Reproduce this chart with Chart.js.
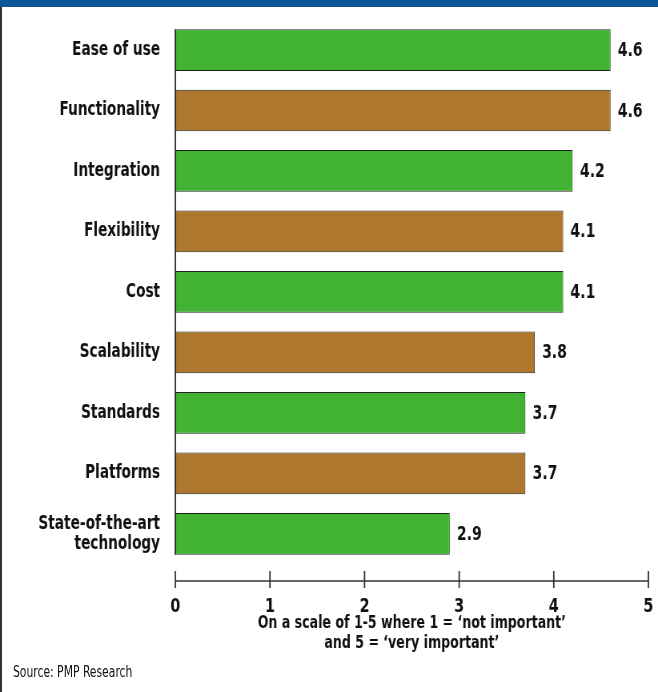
<!DOCTYPE html>
<html>
<head>
<meta charset="utf-8">
<script src="https://cdn.jsdelivr.net/npm/chart.js@4/dist/chart.umd.min.js"></script>
<style>
  body { margin: 0; background: #fff; }
  #wrap { position: relative; width: 658px; height: 692px; overflow: hidden; }
  #topbar { position: absolute; left: 0; top: 0; width: 658px; height: 7px; background: #0b5699; }
  #leftline { position: absolute; left: 0; top: 7px; width: 2px; height: 685px; background: #333; }
  #source { position: absolute; left: 13px; top: 663px; font: 15px "DejaVu Sans Condensed", sans-serif; color: #111;
            transform: scaleX(0.8); transform-origin: left top; white-space: nowrap; }
  /* the canvas is drawn wider and squeezed to fake a condensed typeface */
  canvas { position: absolute; left: 0; top: 0; }
</style>
</head>
<body>
<div id="wrap">
  <canvas id="chart" width="822" height="692" style="width:658px;height:692px"></canvas>
  <div id="topbar"></div>
  <div id="leftline"></div>
  <div id="source">Source: PMP Research</div>
</div>
<script>
  const categories = [
    "Ease of use", "Functionality", "Integration", "Flexibility", "Cost",
    "Scalability", "Standards", "Platforms", ["State-of-the-art", "technology"]
  ];
  const scores = [4.6, 4.6, 4.2, 4.1, 4.1, 3.8, 3.7, 3.7, 2.9];
  const barColors = ["#41b233", "#ad772d", "#41b233", "#ad772d", "#41b233",
                     "#ad772d", "#41b233", "#ad772d", "#41b233"];
  const xTicks = [0, 1, 2, 3, 4, 5];
  const axisTitle = ["On a scale of 1-5 where 1 = \u2018not important\u2019", "and 5 = \u2018very important\u2019"];

  const fontFamily = '"DejaVu Sans Condensed", sans-serif';
  const ink = "#111";

  // value labels, y axis line and the offset x axis line with ticks
  const extras = {
    id: "extras",
    afterDatasetsDraw(chart) {
      const ctx = chart.ctx;
      const meta = chart.getDatasetMeta(0);
      const xScale = chart.scales.x;
      ctx.save();
      ctx.font = "bold 19.5px " + fontFamily;
      ctx.fillStyle = ink;
      ctx.textBaseline = "middle";
      ctx.textAlign = "left";
      meta.data.forEach((bar, i) => {
        ctx.fillText(scores[i].toFixed(1), bar.x + 9, bar.y + 1);
      });

      // y axis line from first bar top to last bar bottom
      const first = meta.data[0], last = meta.data[meta.data.length - 1];
      const x0 = xScale.getPixelForValue(0);
      ctx.strokeStyle = "#333";
      ctx.lineWidth = 1.9;
      ctx.beginPath();
      ctx.moveTo(x0, first.y - first.height / 2);
      ctx.lineTo(x0, last.y + last.height / 2);
      ctx.stroke();

      // x axis, sitting a little below the plot
      const axisY = chart.chartArea.bottom + 17;
      ctx.lineWidth = 1.5;
      ctx.beginPath();
      ctx.moveTo(xScale.getPixelForValue(0), axisY);
      ctx.lineTo(xScale.getPixelForValue(5), axisY);
      ctx.stroke();
      ctx.lineWidth = 1.8;
      ctx.beginPath();
      xTicks.forEach(v => {
        const px = xScale.getPixelForValue(v);
        ctx.moveTo(px, axisY - 10);
        ctx.lineTo(px, axisY + 7);
      });
      ctx.stroke();
      ctx.restore();
    }
  };

  new Chart(document.getElementById("chart"), {
    type: "bar",
    data: {
      labels: categories,
      datasets: [{
        data: scores,
        backgroundColor: barColors,
        borderColor: "#222",
        borderWidth: 1,
        borderSkipped: false,
        barPercentage: 0.69,
        categoryPercentage: 1.0
      }]
    },
    options: {
      indexAxis: "y",
      responsive: false,
      animation: false,
      devicePixelRatio: 1,
      layout: { padding: { top: 19.8, right: 12, bottom: 0, left: 0 } },
      plugins: { legend: { display: false }, tooltip: { enabled: false } },
      scales: {
        x: {
          min: 0,
          max: 5,
          afterFit: s => { s.height = 128; s.paddingLeft = 0; s.paddingRight = 0; },
          grid: { display: false, drawTicks: false },
          border: { display: false },
          ticks: {
            stepSize: 1,
            padding: 33,
            color: ink,
            font: { family: fontFamily, size: 20, weight: "bold", lineHeight: 1 }
          },
          title: {
            display: true,
            text: axisTitle,
            color: ink,
            padding: { top: 0, bottom: 39 },
            font: { family: fontFamily, size: 17.5, weight: "bold", lineHeight: 1.14 }
          }
        },
        y: {
          afterFit: s => { s.width = 219; s.paddingTop = 0; s.paddingBottom = 0; },
          grid: { display: false, drawTicks: false },
          border: { display: false },
          ticks: {
            autoSkip: false,
            padding: 19,
            color: ink,
            font: { family: fontFamily, size: 19, weight: "bold", lineHeight: 1.05 }
          }
        }
      }
    },
    plugins: [extras]
  });
</script>
</body>
</html>
